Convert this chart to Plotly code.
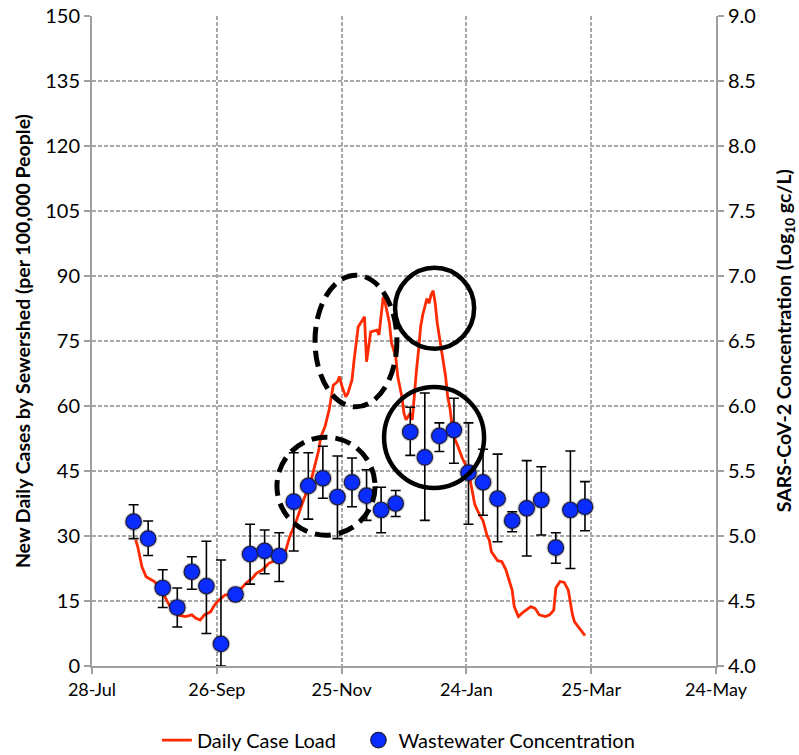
import plotly.graph_objects as go

# ---- daily case load (new daily cases per 100,000 people, left axis) ----
case_dates = [
    "2020-08-18", "2020-08-19", "2020-08-21", "2020-08-23", "2020-08-27", "2020-08-29",
    "2020-09-01", "2020-09-04", "2020-09-07", "2020-09-11", "2020-09-14", "2020-09-16",
    "2020-09-18", "2020-09-20", "2020-09-23", "2020-09-25", "2020-09-27", "2020-09-30",
    "2020-10-03", "2020-10-07", "2020-10-10", "2020-10-13", "2020-10-15", "2020-10-18",
    "2020-10-21", "2020-10-23", "2020-10-26", "2020-10-29", "2020-10-31", "2020-11-03",
    "2020-11-05", "2020-11-07", "2020-11-10", "2020-11-14", "2020-11-15", "2020-11-17",
    "2020-11-19", "2020-11-20", "2020-11-21", "2020-11-23", "2020-11-24", "2020-11-25",
    "2020-11-27", "2020-11-28", "2020-11-30", "2020-12-01", "2020-12-03", "2020-12-05",
    "2020-12-06", "2020-12-07", "2020-12-08", "2020-12-09", "2020-12-12", "2020-12-13",
    "2020-12-15", "2020-12-16", "2020-12-18", "2020-12-19", "2020-12-21", "2020-12-22",
    "2020-12-24", "2020-12-25", "2020-12-26", "2020-12-28", "2020-12-29", "2020-12-30",
    "2020-12-31", "2021-01-01", "2021-01-02", "2021-01-03", "2021-01-04", "2021-01-05",
    "2021-01-06", "2021-01-07", "2021-01-08", "2021-01-09", "2021-01-10", "2021-01-12",
    "2021-01-14", "2021-01-15", "2021-01-16", "2021-01-17", "2021-01-18", "2021-01-20",
    "2021-01-22", "2021-01-25", "2021-01-26", "2021-01-27", "2021-01-28", "2021-01-30",
    "2021-02-01", "2021-02-03", "2021-02-04", "2021-02-05", "2021-02-08", "2021-02-10",
    "2021-02-12", "2021-02-13", "2021-02-15", "2021-02-16", "2021-02-18", "2021-02-20",
    "2021-02-22", "2021-02-24", "2021-02-26", "2021-02-28", "2021-03-03", "2021-03-05",
    "2021-03-07", "2021-03-08", "2021-03-10", "2021-03-12", "2021-03-14", "2021-03-16",
    "2021-03-17", "2021-03-20", "2021-03-22",
]
case_load = [
    29.1, 27.5, 22.9, 20.6, 19.5, 18.3,
    16.0, 13.3, 11.8, 11.4, 11.8, 11.0,
    10.6, 11.8, 12.5, 14.1, 15.2, 16.4,
    16.4, 17.5, 19.1, 20.2, 21.4, 22.2,
    23.7, 24.1, 24.8, 26.4, 29.8, 33.2,
    36.0, 38.7, 42.2, 49.8, 52.9, 55.2,
    59.1, 62.1, 64.8, 65.6, 66.8, 64.8,
    62.1, 62.9, 66.0, 70.6, 78.3, 79.8,
    80.6, 70.2, 73.7, 77.1, 77.5, 76.4,
    85.2, 83.7, 79.1, 74.5, 71.4, 66.8,
    62.1, 58.3, 56.8, 58.3, 56.8, 63.7,
    68.3, 72.9, 78.3, 81.0, 82.9, 84.8,
    83.7, 85.6, 86.6, 83.7, 79.1, 72.9,
    66.8, 62.1, 59.8, 56.0, 52.9, 50.6,
    48.0, 45.0, 42.2, 39.1, 37.3, 35.2,
    33.5, 30.0, 29.1, 26.4, 24.3, 24.1,
    22.2, 20.6, 17.5, 13.7, 11.4, 12.3,
    12.9, 13.7, 13.3, 11.8, 11.4, 11.8,
    12.9, 18.0, 19.5, 19.3, 17.5, 11.8,
    10.2, 8.3, 7.0,
]

# ---- weekly wastewater SARS-CoV-2 concentration (log10 gc/L, right axis) ----
ww_dates = [
    "2020-08-17", "2020-08-24", "2020-08-31", "2020-09-07", "2020-09-14", "2020-09-21",
    "2020-09-28", "2020-10-05", "2020-10-12", "2020-10-19", "2020-10-26", "2020-11-02",
    "2020-11-09", "2020-11-16", "2020-11-23", "2020-11-30", "2020-12-07", "2020-12-14",
    "2020-12-21", "2020-12-28", "2021-01-04", "2021-01-11", "2021-01-18", "2021-01-25",
    "2021-02-01", "2021-02-08", "2021-02-15", "2021-02-22", "2021-03-01", "2021-03-08",
    "2021-03-15", "2021-03-22",
]
ww_mean = [
    5.11, 4.98, 4.60, 4.45, 4.725, 4.615,
    4.17, 4.55, 4.86, 4.885, 4.846, 5.264,
    5.385, 5.444, 5.30, 5.413, 5.31, 5.20,
    5.25, 5.80, 5.605, 5.77, 5.815, 5.487,
    5.413, 5.287, 5.118, 5.213, 5.277, 4.91,
    5.20, 5.225,
]
ww_upper = [
    5.24, 5.115, 4.74, 4.60, 4.84, 4.96,
    4.815, 4.58, 5.09, 5.046, 5.025, 5.64,
    5.64, 5.69, 5.615, 5.60, 5.51, 5.375,
    5.35, 5.99, 6.10, 5.87, 6.06, 5.87,
    5.667, 5.63, 5.187, 5.58, 5.533, 5.025,
    5.654, 5.418,
]
ww_lower = [
    4.98, 4.85, 4.45, 4.30, 4.59, 4.25,
    4.0, 4.52, 4.63, 4.71, 4.65, 4.885,
    5.13, 5.29, 4.98, 5.225, 5.12, 5.025,
    5.15, 5.62, 5.12, 5.65, 5.56, 5.09,
    5.16, 4.956, 5.033, 4.846, 5.008, 4.79,
    4.75, 5.04,
]

x_tick_vals = ["2020-07-28", "2020-09-26", "2020-11-25", "2021-01-24", "2021-03-25", "2021-05-24"]
x_tick_text = ["28-Jul", "26-Sep", "25-Nov", "24-Jan", "25-Mar", "24-May"]

left_title = "<b>New Daily Cases by Sewershed (per 100,000 People)</b>"
right_title = "<b>SARS-CoV-2 Concentration (Log<sub>10</sub> gc/L)</b>"

err_plus = [u - m for u, m in zip(ww_upper, ww_mean)]
err_minus = [m - l for m, l in zip(ww_mean, ww_lower)]

FONT = "Lato"
GRID = "#a8a8a8"
AXIS = "#a0a0a0"

fig = go.Figure()

fig.add_trace(go.Scatter(
    x=case_dates, y=case_load, mode="lines", name="Daily Case Load",
    line=dict(color="#ff2a00", width=2.8),
    yaxis="y", legend="legend",
))

# soft shadow under the wastewater markers
fig.add_trace(go.Scatter(
    x=ww_dates, y=ww_mean, mode="markers", showlegend=False, hoverinfo="skip",
    marker=dict(size=19, color="rgba(0,0,0,0.18)", line=dict(width=0)),
    yaxis="y2",
))

fig.add_trace(go.Scatter(
    x=ww_dates, y=ww_mean, mode="markers", name="Wastewater Concentration",
    marker=dict(size=15.5, color="#0a2cff", line=dict(color="#1a1a40", width=1.2)),
    error_y=dict(type="data", array=err_plus, arrayminus=err_minus,
                 color="black", thickness=1.6, width=5, visible=True),
    yaxis="y2", legend="legend2",
))

# highlight rings around the two waves
fig.add_shape(type="circle", xref="x", yref="y", layer="above",
              x0="2020-11-12 05:00", x1="2020-12-21 14:00", y0=59.8, y1=90.2,
              line=dict(color="black", width=5, dash="16px,8px"))
fig.add_shape(type="circle", xref="x", yref="y", layer="above",
              x0="2020-10-24 22:00", x1="2020-12-11 02:00", y0=30.2, y1=52.8,
              line=dict(color="black", width=5, dash="16px,8px"))
fig.add_shape(type="circle", xref="x", yref="y", layer="above",
              x0="2020-12-20 17:00", x1="2021-01-27 17:00", y0=73.2, y1=91.9,
              line=dict(color="black", width=4.5))
fig.add_shape(type="circle", xref="x", yref="y", layer="above",
              x0="2020-12-15 10:00", x1="2021-02-01 12:00", y0=41.1, y1=64.4,
              line=dict(color="black", width=4.5))

# axis titles placed as rotated annotations
fig.add_annotation(text=left_title, xref="paper", yref="paper", x=-0.112, y=0.5,
                   xanchor="center", yanchor="middle", textangle=-90, showarrow=False,
                   font=dict(family=FONT, size=19.5, color="black"))
fig.add_annotation(text=right_title, xref="paper", yref="paper", x=1.111, y=0.5,
                   xanchor="center", yanchor="middle", textangle=-90, showarrow=False,
                   font=dict(family=FONT, size=19.5, color="black"))

legend_style = dict(orientation="h", xanchor="left", y=-0.114, yanchor="middle",
                    font=dict(family=FONT, size=20, color="black"), itemwidth=30,
                    bgcolor="rgba(0,0,0,0)")

fig.update_layout(
    width=799, height=755,
    margin=dict(l=92, r=83, t=16, b=89, autoexpand=False),
    paper_bgcolor="white", plot_bgcolor="white",
    font=dict(family=FONT, color="black", size=16),
    showlegend=True,
    legend=dict(x=0.104, **legend_style),
    legend2=dict(x=0.427, **legend_style),
    xaxis=dict(
        type="date", range=["2020-07-28", "2021-05-24"],
        tickmode="array", tickvals=x_tick_vals, ticktext=x_tick_text,
        showgrid=True, gridcolor=GRID, griddash="4px,2px", gridwidth=1.5,
        showline=True, linecolor=AXIS, linewidth=2,
        ticks="outside", ticklen=6, tickcolor=AXIS, tickwidth=1.5,
        tickfont=dict(family=FONT, size=18), zeroline=False,
    ),
    yaxis=dict(
        range=[0, 150], tickmode="linear", tick0=0, dtick=15,
        showgrid=True, gridcolor=GRID, griddash="4px,2px", gridwidth=1.5,
        showline=True, linecolor=AXIS, linewidth=2,
        ticks="outside", ticklen=6, tickcolor=AXIS, tickwidth=1.5,
        tickfont=dict(family=FONT, size=20), zeroline=False,
    ),
    yaxis2=dict(
        range=[4, 9], tickmode="linear", tick0=4, dtick=0.5, tickformat=".1f",
        overlaying="y", side="right", showgrid=False,
        showline=True, linecolor=AXIS, linewidth=2,
        ticks="outside", ticklen=6, tickcolor=AXIS, tickwidth=1.5,
        tickfont=dict(family=FONT, size=20), zeroline=False,
    ),
)

fig.write_html("out.html")
